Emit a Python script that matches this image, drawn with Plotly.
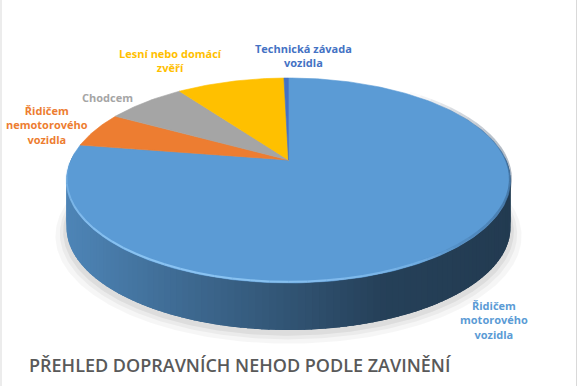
import numpy as np
import plotly.graph_objects as go

# ---- data ----
categories = ["Řidičem motorového vozidla", "Řidičem nemotorového vozidla", "Chodcem",
              "Lesní nebo domácí zvěří", "Technická závada vozidla"]
shares = [77.5, 5.6, 7.0, 9.5, 0.4]
label_text = ["Řidičem<br>motorového<br>vozidla", "Řidičem<br>nemotorového<br>vozidla", "Chodcem",
              "Lesní nebo domácí<br>zvěří", "Technická závada<br>vozidla"]
colors = ["#5B9BD5", "#ED7D31", "#A5A5A5", "#FFC000", "#4472C4"]
title_text = "PŘEHLED DOPRAVNÍCH NEHOD PODLE ZAVINĚNÍ"

# ---- layout geometry (pixels) ----
W, H = 579, 386
X0, Y0 = 288.5, 160.0          # projected pie centre
P, Q, K = 217.5, 98.4, 0.2     # perspective projection parameters
DEPTH = 47
label_pos = [(494, 320), (47, 125), (107, 97), (170, 60), (303, 55)]


def proj(theta_deg, drop=0.0):
    t = np.radians(theta_deg)
    u, w = np.sin(t), np.cos(t)
    d = 1 + K * w
    return X0 + P * u / d, Y0 + drop - Q * w / d


def hex_rgb(h):
    h = h.lstrip("#")
    return tuple(int(h[i:i + 2], 16) for i in (0, 2, 4))


total = sum(shares)
bounds = np.concatenate([[0], np.cumsum(shares) / total * 360.0])

fig = go.Figure()

# shadow
ths = np.linspace(0, 360, 361)
bx, by = proj(ths, DEPTH)
for sc, off, al in [(1.05, 8, 0.035), (1.03, 6, 0.045), (1.015, 4, 0.06)]:
    fig.add_trace(go.Scatter(x=X0 + sc * (bx - X0), y=by + off + (by - by.mean()) * (sc - 1),
                             fill="toself", mode="lines", line=dict(width=0),
                             fillcolor=f"rgba(0,0,0,{al})", hoverinfo="skip", showlegend=False))

# side wall (front part) with shading
shade_x = [60, 180, 300, 380, 520]
shade_f = [0.87, 0.69, 0.53, 0.42, 0.38]
step = 1.5
for t0 in np.arange(88, 272, step):
    t1 = t0 + 2.2 * step
    tm = t0 + step / 2
    idx = int(np.searchsorted(bounds, tm, side="right") - 1)
    idx = min(max(idx, 0), len(shares) - 1)
    tt = np.linspace(t0, t1, 4)
    xa, ya = proj(tt)
    xd, yd = proj(tt[::-1], DEPTH)
    xm = float(proj(tm)[0])
    f = float(np.interp(xm, shade_x, shade_f))
    r, g, b = hex_rgb(colors[idx])
    col = f"rgb({int(r * f)},{int(g * f)},{int(b * f)})"
    fig.add_trace(go.Scatter(x=np.concatenate([xa, xd, xa[:1]]), y=np.concatenate([ya, yd, ya[:1]]),
                             fill="toself", mode="lines", line=dict(width=0),
                             fillcolor=col, hoverinfo="skip", showlegend=False))

# top faces
for i in range(len(shares)):
    a0, a1 = bounds[i], bounds[i + 1]
    n = max(3, int((a1 - a0) / 1.0) + 2)
    th = np.linspace(a0, a1, n)
    px, py = proj(th)
    xs = np.concatenate([[X0], px, [X0]])
    ys = np.concatenate([[Y0], py, [Y0]])
    fig.add_trace(go.Scatter(x=xs, y=ys, fill="toself", mode="lines",
                             line=dict(width=0.6, color=colors[i]), fillcolor=colors[i],
                             hoverinfo="skip", showlegend=False, name=categories[i]))

# bevel highlight along front-left top edge (fading)
seg = np.linspace(140, 268, 33)
for j in range(len(seg) - 1):
    th = np.linspace(seg[j], seg[j + 1], 4)
    hx, hy = proj(th)
    a = 0.8 * np.sin(np.pi * (j + 0.5) / (len(seg) - 1)) ** 0.6
    fig.add_trace(go.Scatter(x=hx, y=hy - 1.2, mode="lines",
                             line=dict(width=2, color=f"rgba(150,205,250,{a:.2f})"),
                             hoverinfo="skip", showlegend=False))
# soft dark rim on the right
seg = np.linspace(40, 150, 29)
for j in range(len(seg) - 1):
    th = np.linspace(seg[j], seg[j + 1], 4)
    hx, hy = proj(th)
    a = 0.35 * np.sin(np.pi * (j + 0.5) / (len(seg) - 1))
    fig.add_trace(go.Scatter(x=hx, y=hy - 1.5, mode="lines",
                             line=dict(width=3, color=f"rgba(30,55,85,{a:.2f})"),
                             hoverinfo="skip", showlegend=False))

annotations = []
for i, txt in enumerate(label_text):
    lx, ly = label_pos[i]
    annotations.append(dict(x=lx, y=ly, xref="x", yref="y", text=txt, showarrow=False,
                            xanchor="center", yanchor="middle", align="center",
                            font=dict(family="Open Sans", size=11, color=colors[i], weight=700)))
annotations.append(dict(x=27, y=365, xref="x", yref="y", text=title_text, showarrow=False,
                        xanchor="left", yanchor="middle",
                        font=dict(family="Open Sans", size=18, color="#595959", weight=600)))

fig.update_layout(
    width=W, height=H, autosize=False,
    margin=dict(l=0, r=0, t=0, b=0),
    paper_bgcolor="white", plot_bgcolor="white",
    xaxis=dict(range=[0, W], visible=False, fixedrange=True),
    yaxis=dict(range=[H, 0], visible=False, fixedrange=True),
    annotations=annotations,
    shapes=[dict(type="rect", xref="x", yref="y", x0=1, x1=576.5, y0=-3, y1=H + 3,
                 line=dict(color="#D9D9D9", width=1), fillcolor="rgba(0,0,0,0)", layer="above")],
    showlegend=False,
)

fig.write_html("out.html", config={"displayModeBar": False},
               post_script="document.body.style.margin='0';document.body.style.overflow='hidden';")
